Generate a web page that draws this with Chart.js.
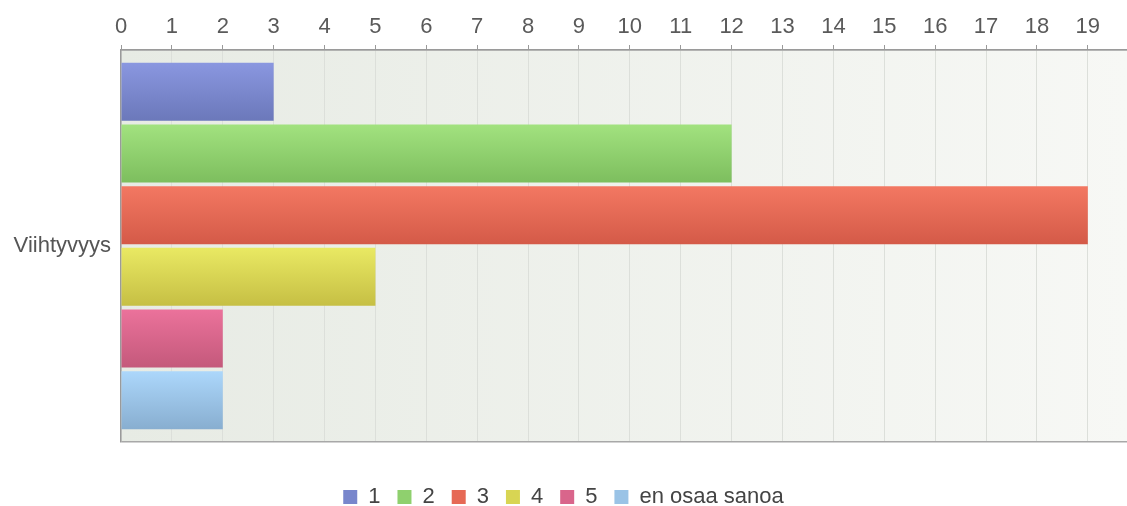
<!DOCTYPE html>
<html>
<head>
<meta charset="utf-8">
<script src="https://cdn.jsdelivr.net/npm/chart.js@4/dist/chart.umd.min.js"></script>
<style>
html,body{margin:0;padding:0;background:#fff;}
#wrap{width:1127px;height:506px;position:relative;}
</style>
</head>
<body>
<div id="wrap"><canvas id="c" width="1127" height="506"></canvas></div>
<script>
const categories = ['Viihtyvyys'];
const seriesNames = ['1', '2', '3', '4', '5', 'en osaa sanoa'];
const values1 = [3];
const values2 = [12];
const values3 = [19];
const values4 = [5];
const values5 = [2];
const values6 = [2];
const seriesValues = [values1, values2, values3, values4, values5, values6];
const tickValues = [0, 1, 2, 3, 4, 5, 6, 7, 8, 9, 10, 11, 12, 13, 14, 15, 16, 17, 18, 19];
const axisMax = 19.77;

const colorTop = ['#8a97e0', '#a2e27f', '#f37862', '#e9e963', '#eb729b', '#acd7fb'];
const colorBottom = ['#6b78ba', '#7dbe5e', '#d45a48', '#c6bf44', '#c4597b', '#88aed0'];
const colorMid = ['#7886cc', '#8fd06e', '#e66955', '#d8d553', '#d9658b', '#9ac3e6'];

const FONT = '"Liberation Sans", Arial, sans-serif';

const plotBg = {
  id: 'plotBg',
  beforeDraw(chart) {
    const {ctx, chartArea: a} = chart;
    const g = ctx.createLinearGradient(a.left, 0, a.right, 0);
    g.addColorStop(0, '#e7ebe4');
    g.addColorStop(1, '#f7f8f5');
    ctx.save();
    ctx.fillStyle = g;
    ctx.fillRect(a.left, a.top, a.right - a.left, a.bottom - a.top);
    ctx.restore();
  }
};

const barGrad = {
  id: 'barGrad',
  beforeDatasetsDraw(chart) {
    const ctx = chart.ctx;
    chart.data.datasets.forEach((ds, i) => {
      const meta = chart.getDatasetMeta(i);
      meta.data.forEach(el => {
        const top = el.y - el.height / 2;
        const bot = el.y + el.height / 2;
        const g = ctx.createLinearGradient(0, top, 0, bot);
        g.addColorStop(0, colorTop[i]);
        g.addColorStop(1, colorBottom[i]);
        el.options = Object.assign({}, el.options, {backgroundColor: g});
      });
    });
  }
};

const datasets = seriesNames.map((name, i) => ({
  label: name,
  data: seriesValues[i],
  backgroundColor: colorMid[i],
  borderWidth: 0,
  categoryPercentage: 0.944,
  barPercentage: 0.94
}));

new Chart(document.getElementById('c'), {
  type: 'bar',
  data: { labels: categories, datasets },
  plugins: [plotBg, barGrad],
  options: {
    indexAxis: 'y',
    responsive: false,
    animation: false,
    layout: { padding: { left: 0, right: 0, top: 0, bottom: -12 } },
    scales: {
      x: {
        position: 'top',
        min: 0,
        max: axisMax,
        afterFit(s) { s.height = 50; },
        afterBuildTicks(s) { s.ticks = tickValues.map(v => ({ value: v })); },
        ticks: {
          color: '#5a5a5a',
          padding: 5,
          maxRotation: 0,
          autoSkip: false,
          font: { family: FONT, size: 22 }
        },
        grid: {
          color: '#dcdfda',
          lineWidth: 1,
          tickColor: '#9a9a9a',
          tickLength: 5,
          drawTicks: true
        },
        border: { display: true, color: '#9a9a9a', width: 1.5 }
      },
      y: {
        afterFit(s) { s.width = 121; },
        ticks: {
          color: '#555',
          padding: 10,
          font: { family: FONT, size: 22 }
        },
        grid: {
          color: '#a8a8a8',
          lineWidth: 1.5,
          drawTicks: false,
          offset: true
        },
        border: { display: true, color: '#9a9a9a', width: 1.5 }
      }
    },
    plugins: {
      tooltip: { enabled: false },
      legend: {
        position: 'bottom',
        title: { display: true, text: '', font: { size: 10, lineHeight: 1 }, padding: { top: 0, bottom: 17 } },
        labels: {
          boxWidth: 14,
          boxHeight: 14,
          padding: 17,
          color: '#444',
          font: { family: FONT, size: 22 }
        }
      }
    }
  }
});
</script>
</body>
</html>
